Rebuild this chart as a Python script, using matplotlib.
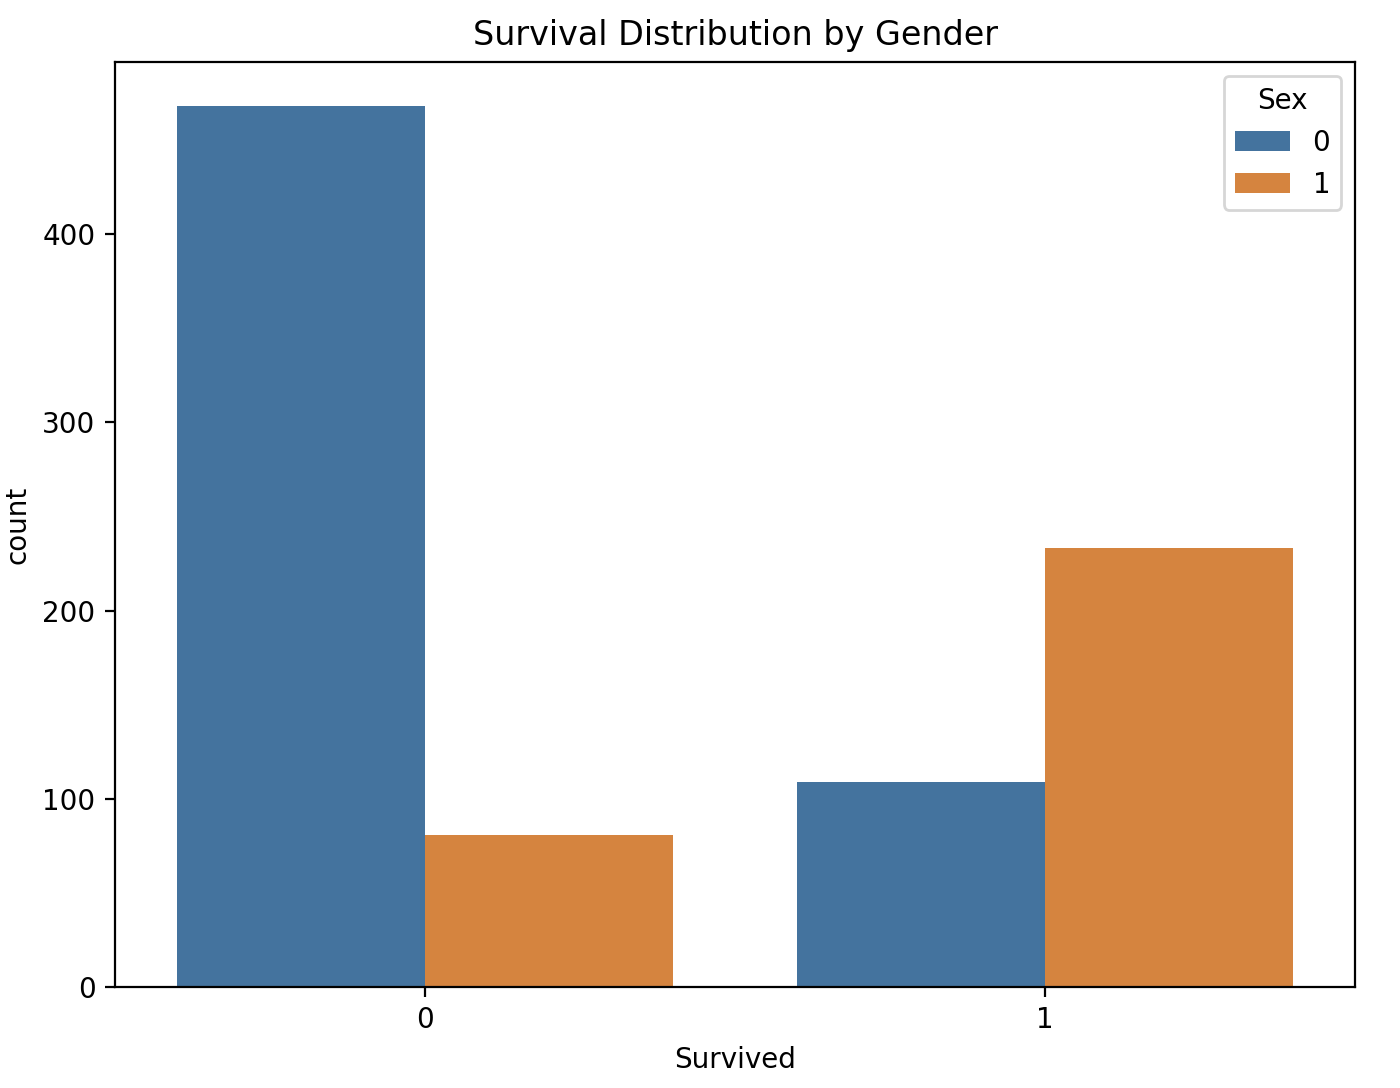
import matplotlib
matplotlib.use('Agg')
import matplotlib.pyplot as plt
import numpy as np

# Data
survived = ['0', '1']
sex_labels = ['0', '1']
counts_sex0 = [468, 109]
counts_sex1 = [81, 233]

colors = ['#44739e', '#d5843f']

fig = plt.figure(figsize=(7, 5.44), dpi=200)
ax = fig.add_axes([0.0821, 0.0928, 0.8860, 0.8502])

x = np.arange(len(survived))
w = 0.4
ax.bar(x - w/2, counts_sex0, width=w, color=colors[0], label=sex_labels[0])
ax.bar(x + w/2, counts_sex1, width=w, color=colors[1], label=sex_labels[1])

ax.set_xticks(x)
ax.set_xticklabels(survived)
ax.set_xlim(-0.5, 1.5)
ax.set_xlabel('Survived')
ax.set_ylabel('count')
ax.set_title('Survival Distribution by Gender')
ax.legend(title='Sex', loc='upper right')

fig.savefig('out.png', dpi=200)
